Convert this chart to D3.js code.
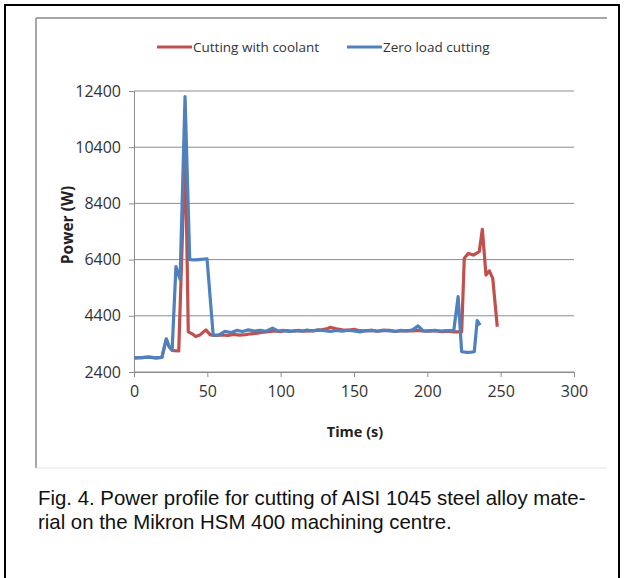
<!DOCTYPE html>
<html><head><meta charset="utf-8">
<script src="https://cdn.jsdelivr.net/npm/d3@7"></script>
<style>body{margin:0;background:#fff}svg{display:block}</style>
</head><body>
<svg id="c" width="624" height="578"></svg>
<script>
const xTicks = [0, 50, 100, 150, 200, 250, 300];
const yTicks = [2400, 4400, 6400, 8400, 10400, 12400];
const seriesNames = ["Cutting with coolant", "Zero load cutting"];

const coolantTime = [0,5,10,15,19,22,24,26,27.5,30.5,35,37,40,42,45,49,52,56,60,64,68,72,76,80,84,88,92,96,100,104,108,112,116,120,124,128,132,134,138,142,146,150,154,158,162,166,170,174,178,182,186,190,194,198,202,206,210,214,218,223.4,225.2,228,231.4,235.4,237.5,240,242.3,244.6,247.7];
const coolantPower = [2900,2910,2930,2905,2920,3560,3300,3170,3160,3150,10480,3830,3750,3660,3720,3900,3720,3700,3720,3700,3740,3710,3730,3760,3780,3820,3840,3860,3840,3870,3850,3880,3850,3860,3880,3900,3950,3990,3940,3900,3880,3920,3870,3860,3880,3850,3870,3880,3850,3860,3870,3860,3880,3850,3870,3860,3840,3850,3830,3830,6450,6620,6560,6680,7480,5850,6000,5730,4010];

const zeroTime = [0,5,10,15,19,22,24,26,28.6,31.4,34.8,38,42,46,49.8,54,58,62,66,70,74,78,82,86,90,94.5,98,102,106,110,114,118,122,126,130,134,138,142,146,150,154,158,162,166,170,174,178,182,186,190,193.7,197,201,205,209,213,218,221,223.4,227,230,232,234,236];
const zeroPower = [2900,2910,2930,2905,2920,3580,3300,3180,6150,5700,12200,6400,6390,6410,6430,3700,3720,3850,3800,3880,3840,3900,3860,3880,3850,3960,3860,3880,3840,3870,3850,3890,3860,3900,3870,3840,3880,3850,3890,3860,3830,3870,3880,3850,3890,3870,3840,3880,3860,3900,4040,3870,3850,3880,3860,3870,3870,5080,3120,3100,3110,3120,4230,4070];

const colors = ["#C0504D", "#4F81BD"];
const svg = d3.select("#c");
const labelFont = "'Open Sans',sans-serif";

// outer black frame
svg.append("rect").attr("x",5).attr("y",5).attr("width",614).attr("height",600)
  .attr("fill","none").attr("stroke","#000").attr("stroke-width",2);
// chart area frame
svg.append("line").attr("x1",36).attr("x2",607).attr("y1",18).attr("y2",18).attr("stroke","#8a8a8a").attr("stroke-width",1.5);
svg.append("line").attr("x1",36).attr("x2",36).attr("y1",18).attr("y2",468).attr("stroke","#8a8a8a").attr("stroke-width",1.5);
svg.append("line").attr("x1",36).attr("x2",607).attr("y1",468).attr("y2",468).attr("stroke","#e4e4e4").attr("stroke-width",1);

const x = d3.scaleLinear().domain([0,300]).range([134,574]);
const y = d3.scaleLinear().domain([2400,12400]).range([372,91]);

// gridlines
svg.append("g").selectAll("line").data(yTicks).join("line")
  .attr("x1",134).attr("x2",574).attr("y1",d=>y(d)).attr("y2",d=>y(d))
  .attr("stroke","#8c8c8c").attr("stroke-width",1);

const yAxis = svg.append("g").attr("transform","translate(134,0)")
  .call(d3.axisLeft(y).tickValues(yTicks).tickSize(5).tickPadding(8).tickFormat(d3.format("d")));
const xAxis = svg.append("g").attr("transform","translate(0,372)")
  .call(d3.axisBottom(x).tickValues(xTicks).tickSize(5).tickPadding(9).tickFormat(d3.format("d")));
[yAxis,xAxis].forEach(a=>{
  a.select(".domain").attr("stroke","#8c8c8c");
  a.selectAll(".tick line").attr("stroke","#8c8c8c");
  a.selectAll("text").attr("fill","#333").style("font-family",labelFont).style("font-size","16px");
});

// lines
const line = d3.line().x(d=>x(d[0])).y(d=>y(d[1]));
const redData = coolantTime.map((t,i)=>[t,coolantPower[i]]);
const blueData = zeroTime.map((t,i)=>[t,zeroPower[i]]);
svg.append("path").datum(redData).attr("d",line).attr("fill","none")
  .attr("stroke",colors[0]).attr("stroke-width",3.2).attr("stroke-linejoin","round");
svg.append("path").datum(blueData).attr("d",line).attr("fill","none")
  .attr("stroke",colors[1]).attr("stroke-width",3.2).attr("stroke-linejoin","round");

// axis titles
svg.append("text").attr("x",355).attr("y",437).attr("text-anchor","middle")
  .style("font-family",labelFont).style("font-size","14.5px").style("font-weight","bold").attr("fill","#222").text("Time (s)");
svg.append("text").attr("transform","translate(73,225) rotate(-90)").attr("text-anchor","middle")
  .style("font-family",labelFont).style("font-size","15.5px").style("font-weight","bold").attr("fill","#222").text("Power (W)");

// legend
const legX = [157, 347];
seriesNames.forEach((n,i)=>{
  svg.append("line").attr("x1",legX[i]).attr("x2",legX[i]+35).attr("y1",47).attr("y2",47)
    .attr("stroke",colors[i]).attr("stroke-width",3);
  svg.append("text").attr("x",legX[i]+36).attr("y",52).style("font-family",labelFont)
    .style("font-size","13.5px").attr("fill","#333").text(n);
});

// caption
const cap = ["Fig. 4. Power profile for cutting of AISI 1045 steel alloy mate-",
             "rial on the Mikron HSM 400 machining centre."];
cap.forEach((t,i)=>{
  svg.append("text").attr("x",38).attr("y",505+i*24).style("font-family","'Liberation Sans',Arial,sans-serif")
    .style("font-size","20.4px").attr("fill","#111").text(t);
});
</script>
</body></html>
